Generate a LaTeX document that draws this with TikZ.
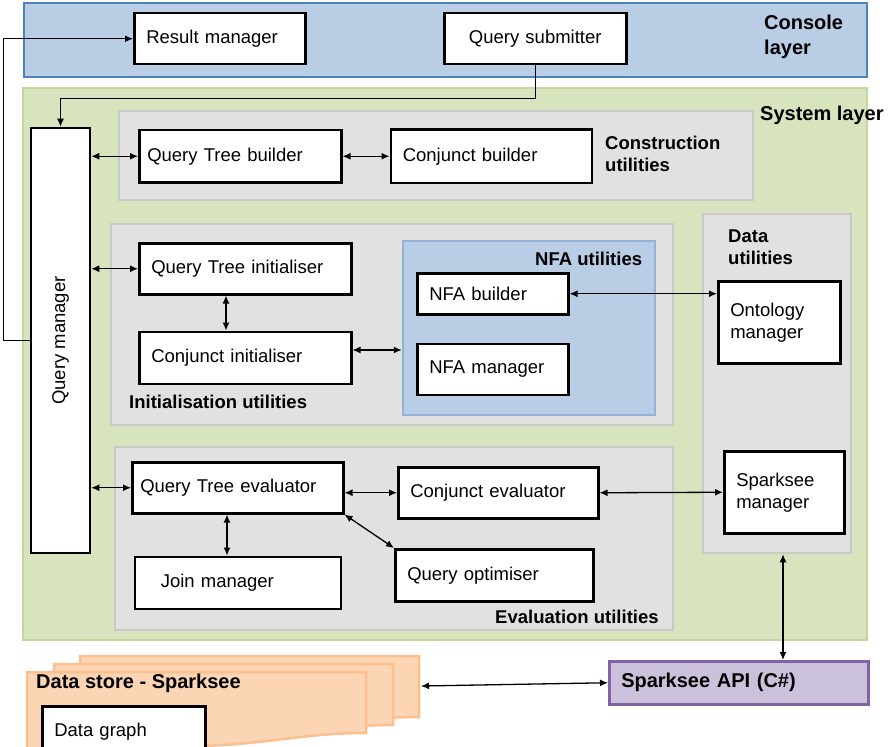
\documentclass[tikz,border=0pt]{standalone}
\usepackage{fontspec}
\setmainfont{Liberation Sans}
\usetikzlibrary{arrows.meta,positioning,fit}

\definecolor{consolefill}{HTML}{B9CDE5}
\definecolor{consoleline}{HTML}{4F81BD}
\definecolor{systemfill}{HTML}{D7E4BD}
\definecolor{systemline}{HTML}{C3D69B}
\definecolor{groupfill}{HTML}{E1E1E1}
\definecolor{groupline}{HTML}{C9C9C9}
\definecolor{nfaline}{HTML}{95B3D7}
\definecolor{apifill}{HTML}{CCC1DA}
\definecolor{apiline}{HTML}{8064A2}
\definecolor{storefill}{HTML}{FCD5B5}
\definecolor{storeline}{HTML}{FAC090}

\begin{document}
\begin{tikzpicture}[x=1pt, y=-1pt, font=\fontsize{18.5}{22}\selectfont,
  area/.style args = {#1,#2}{draw=#2, fill=#1, line width=2.5pt, inner sep=0pt},
  box/.style args = {#1,#2}{draw, fill=white, line width=2.5pt, text width=#1, minimum height=#2, inner xsep=12pt, inner ysep=0pt, align=left, anchor=north west},
  title/.style = {font=\fontsize{18.5}{22.5}\selectfont\bfseries, inner sep=0pt, anchor=west, align=left},
  headline/.style = {title, font=\fontsize{20}{24.5}\selectfont\bfseries},
  link/.style = {{Latex[length=8pt,width=7pt]}-{Latex[length=8pt,width=7pt]}, line width=1.3pt},
  feed/.style = {-{Latex[length=8pt,width=7pt]}, line width=1.3pt},
  sheet/.style = {draw=storeline, fill=storefill, line width=2.5pt}]
\useasboundingbox (0,0) rectangle (890,746);
\clip (0,0) rectangle (890,746);

% layers
\node (console) [area={consolefill,consoleline}, fit={(24,3) (867,77)}] {};
\node (system) [area={systemfill,systemline}, fit={(23,88) (867,640)}] {};

% utility groups
\node (conUtil) [area={groupfill,groupline}, fit={(119,111) (753,200)}] {};
\node (iniUtil) [area={groupfill,groupline}, fit={(111,224) (673,425)}] {};
\node (evaUtil) [area={groupfill,groupline}, fit={(115,447) (673,630)}] {};
\node (dataUtil) [area={groupfill,groupline}, fit={(703,214) (851,553)}] {};
\node (nfaUtil) [area={consolefill,nfaline}, fit={(403,241) (655,415)}] {};

\node (lblConsole) [headline] at (764,37) {Console\\layer};
\node (lblSystem) [headline] at (760,115) {System layer};
\node (lblCon) [title] at (605,154) {Construction\\utilities};
\node (lblIni) [title] at (129,402) {Initialisation utilities};
\node (lblNfa) [title] at (535,259) {NFA utilities};
\node (lblData) [title] at (728,247) {Data\\utilities};
\node (lblEva) [title] at (495,617) {Evaluation utilities};

% console
\node (resMgr) [box={147pt,51pt}] at (133,12) {Result manager};
\node (qrySub) [box={158pt,51pt}, align=center] at (443,12) {Query submitter};

% system
\node (qryMgr) [draw, fill=white, line width=2.5pt, rotate=90, minimum width=425pt, minimum height=59pt] at (60.5,340.5) {Query manager};

\node (qtBld) [box={186pt,52pt}, inner xsep=8pt] at (138,129) {Query Tree builder};
\node (cnjBld) [box={177pt,53pt}, right=47pt of qtBld] {Conjunct builder};

\node (qtIni) [box={188pt,51pt}] at (138,242) {Query Tree initialiser};
\node (cnjIni) [box={188pt,52pt}, below=35pt of qtIni] {Conjunct initialiser};
\node (nfaBld) [box={127pt,41pt}] at (416,272) {NFA builder};
\node (nfaMgr) [box={127pt,51pt}, below=27pt of nfaBld] {NFA manager};

\node (ontMgr) [box={98pt,82pt}] at (717,280) {Ontology\\manager};
\node (spkMgr) [box={96pt,82pt}] at (723,450) {Sparksee\\manager};

\node (qtEva) [box={195pt,51pt}, inner xsep=8pt] at (131,461) {Query Tree evaluator};
\node (cnjEva) [box={176pt,51pt}] at (397,466) {Conjunct evaluator};
\node (joinMgr) [box={154pt,52pt}, inner xsep=26pt, below=41pt of qtEva] {Join manager};
\node (qryOpt) [box={174pt,52pt}] at (394,548) {Query optimiser};

% data store and api
\foreach \dx/\dy in {53/-16, 27/-8, 0/0}
  \draw[sheet, shift={(\dx,\dy)}] (27,672) -- (366,672) -- (366,733)
    .. controls (300,733) and (260,746) .. (190,746)
    .. controls (120,746) and (60,752) .. (27,752) -- cycle;
\node (lblStore) [headline] at (36,683) {Data store - Sparksee};
\node (dataGraph) [box={139pt,50pt}] at (41,705) {Data graph};
\coordinate (storeEdge) at (421,686);

\node (spkApi) [box={235pt,43pt}, draw=apiline, fill=apifill, font=\fontsize{20}{24}\selectfont\bfseries] at (608,660) {Sparksee API (C\#)};

% connectors
\draw[feed] (qrySub.south) -- ++(0,33) -| (qryMgr.east);
\draw[feed] (qryMgr.north) -- ++(-26,0) |- (resMgr.west);

\draw[link] (qryMgr.south |- qtBld.west) -- (qtBld.west);
\draw[link] (qtBld.east) -- (cnjBld.west);
\draw[link] (qryMgr.south |- qtIni.west) -- (qtIni.west);
\draw[link] (226,0 |- qtIni.south) -- (226,0 |- cnjIni.north);
\draw[link] (cnjIni.east |- 0,350) -- (nfaUtil.west |- 0,350);
\draw[link] (nfaBld.east) -- (nfaBld.east -| ontMgr.west);
\draw[link] (qryMgr.south |- qtEva.west) -- (qtEva.west);
\draw[link] (qtEva.east |- cnjEva.west) -- (cnjEva.west);
\draw[link] (cnjEva.east) -- (spkMgr.west);
\draw[link] (227,0 |- qtEva.south) -- (227,0 |- joinMgr.north);
\draw[link] (qtEva.south east) -- (qryOpt.north west);
\draw[link] (783,0 |- dataUtil.south) -- (783,0 |- spkApi.north);
\draw[link] (storeEdge) -- (spkApi.west);
\end{tikzpicture}
\end{document}
